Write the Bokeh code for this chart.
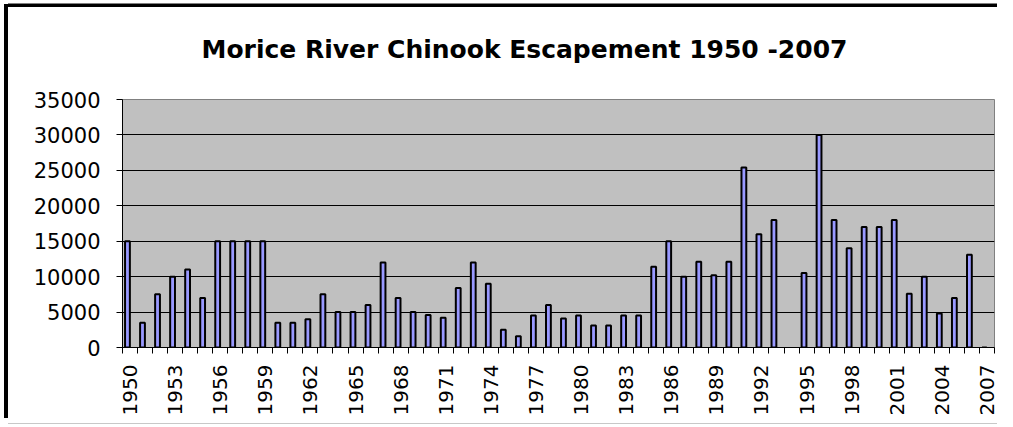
from bokeh.plotting import figure
from bokeh.models import ColumnDataSource, FixedTicker, Range1d, Title
from bokeh.embed import file_html
from bokeh.resources import INLINE
import math

# ---- data ----
years = list(range(1950, 2008))
escapement = [
    15000, 3500, 7500, 10000, 11000, 7000, 15000, 15000, 15000, 15000,
    3500, 3500, 4000, 7500, 5000, 5000, 6000, 12000, 7000, 5000,
    4600, 4200, 8400, 12000, 9000, 2500, 1600, 4500, 6000, 4100,
    4500, 3100, 3100, 4500, 4500, 11400, 15000, 10000, 12100, 10200,
    12100, 25400, 16000, 18000, None, 10500, 30000, 18000, 14000, 17000,
    17000, 18000, 7600, 10000, 4800, 7000, 13100, 0,
]
label_years = years[::3]
y_ticks = [0, 5000, 10000, 15000, 20000, 25000, 30000, 35000]
title_text = "Morice River Chinook Escapement 1950 -2007"

# bars sit in the left half of each category (Excel two-series cluster)
bar_offset = -0.17
bar_width = 0.32

xs = [y + bar_offset for y, v in zip(years, escapement) if v is not None]
tops = [v for v in escapement if v is not None]
src = ColumnDataSource(dict(x=xs, top=tops))

x_lo, x_hi = years[0] - 0.5, years[-1] + 0.5
y_lo, y_hi = y_ticks[0], y_ticks[-1]

p = figure(
    width=993, height=411,
    x_range=Range1d(x_lo, x_hi),
    y_range=Range1d(y_lo, y_hi),
    output_backend="svg", toolbar_location=None,
    min_border_left=114, min_border_right=7,
    min_border_top=92, min_border_bottom=67,
    background_fill_color="#c0c0c0", border_fill_color="white",
)
p.outline_line_color = "#808080"
p.outline_line_width = 1

p.vbar(x="x", top="top", bottom=0, width=bar_width, source=src,
       fill_color="#9999ff", line_color="black", line_width=2)

# title
p.title.text = title_text
p.title.text_font = "DejaVu Sans"
p.title.text_font_size = "25px"
p.title.text_font_style = "bold"
p.title.text_color = "black"
p.title.align = "left"
p.title.offset = 79
p.title.standoff = 0

# empty spacer between the title and the plot area
spacer = Title(text=" ", text_font_size="20px", standoff=12)
p.add_layout(spacer, "above")

# y axis
p.yaxis.ticker = FixedTicker(ticks=y_ticks)
p.yaxis.major_tick_out = 6
p.yaxis.major_tick_in = 0
p.yaxis.minor_tick_line_color = None
p.yaxis.major_label_standoff = 16
p.yaxis.major_label_text_font = "DejaVu Sans"
p.yaxis.major_label_text_font_size = "21px"
p.yaxis.major_label_text_color = "black"
p.yaxis.axis_line_color = "black"
p.yaxis.major_tick_line_color = "black"

# x axis: labels every 3 years, tick marks between categories
boundaries = [y - 0.5 for y in years] + [years[-1] + 0.5]
p.xaxis.ticker = FixedTicker(ticks=label_years, minor_ticks=boundaries)
p.xaxis.major_tick_out = 0
p.xaxis.major_tick_in = 0
p.xaxis.minor_tick_out = 6
p.xaxis.minor_tick_in = 0
p.xaxis.minor_tick_line_color = "black"
p.xaxis.major_label_orientation = math.pi / 2
p.xaxis.major_label_standoff = 11
p.xaxis.major_label_text_font = "DejaVu Sans"
p.xaxis.major_label_text_font_size = "20px"
p.xaxis.major_label_text_color = "black"
p.xaxis.axis_line_color = "black"

# grid
p.xgrid.grid_line_color = None
p.ygrid.ticker = FixedTicker(ticks=y_ticks[1:-1])
p.ygrid.grid_line_color = "black"
p.ygrid.grid_line_width = 1

# outer chart frame (painted as shadows so the layout is not changed)
p.styles = {
    "position": "relative",
    "left": "8px",
    "top": "7px",
    "clip-path": "inset(-10px 4px -10px -10px)",
    "box-shadow": ("0 5px 0 0 white, 0 6px 0 0 #c8c8c8, "
                   "-4px 0 0 0 black, 0 -3px 0 0 black, -4px -3px 0 0 black, "
                   "0 -4px 0 0 #808080"),
}

open("out.html", "w").write(file_html(p, INLINE))
